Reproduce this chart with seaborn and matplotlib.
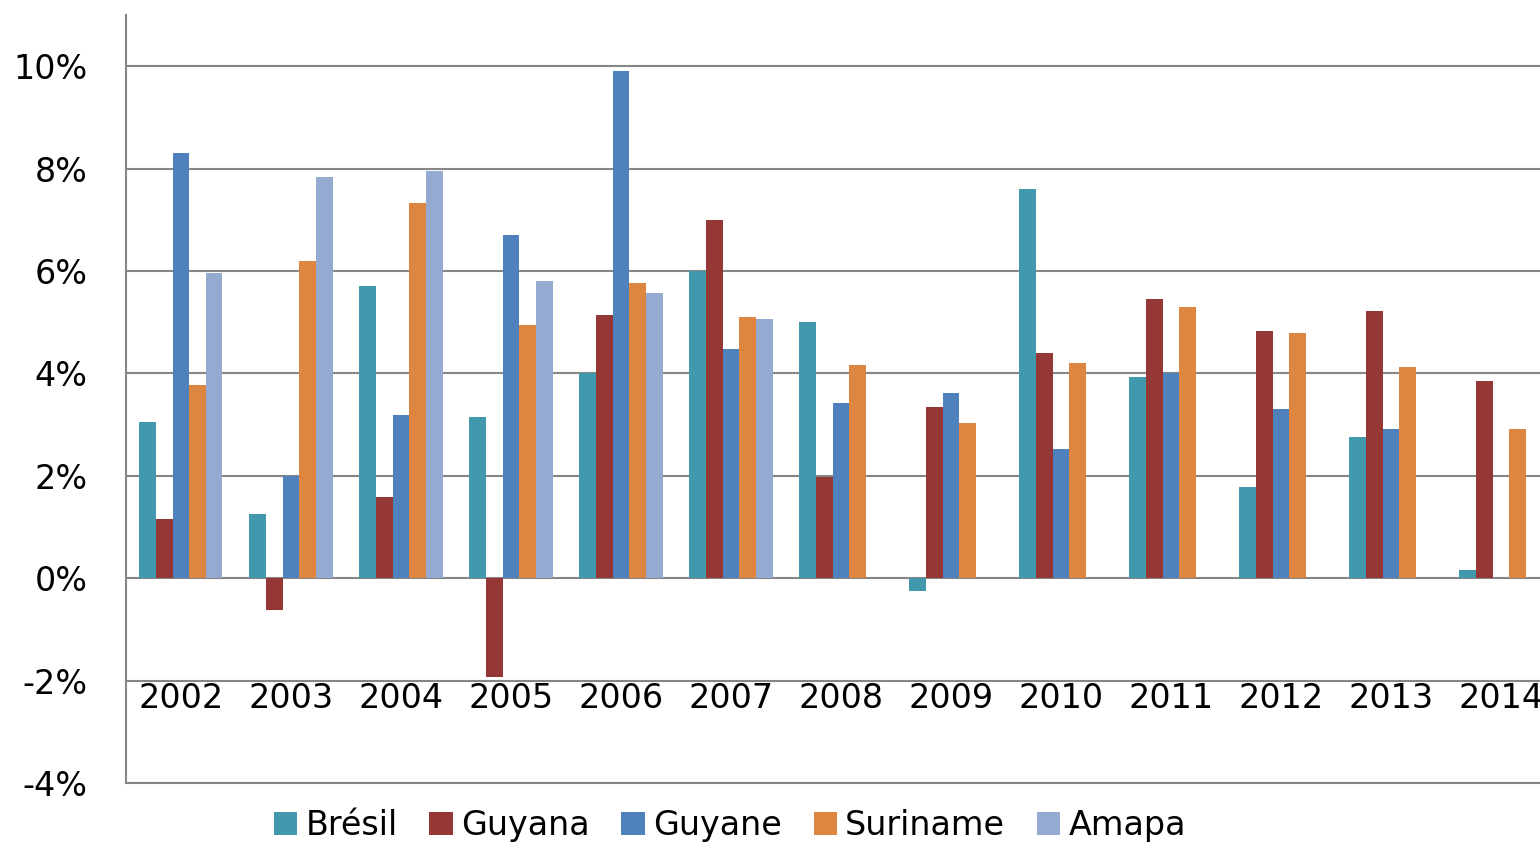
import matplotlib
matplotlib.use("Agg")
import matplotlib.pyplot as plt
import seaborn as sns
import pandas as pd
import numpy as np
from matplotlib.ticker import FuncFormatter

years = ["2002", "2003", "2004", "2005", "2006", "2007", "2008",
         "2009", "2010", "2011", "2012", "2013", "2014"]
bresil = [3.05, 1.25, 5.7, 3.15, 4.0, 6.0, 5.0, -0.25, 7.6, 3.93, 1.78, 2.75, 0.15]
guyana = [1.15, -0.63, 1.58, -1.93, 5.14, 7.0, 1.97, 3.34, 4.39, 5.45, 4.82, 5.21, 3.85]
guyane = [8.3, 2.0, 3.18, 6.7, 9.9, 4.47, 3.42, 3.61, 2.52, 4.0, 3.3, 2.91, None]
suriname = [3.77, 6.19, 7.32, 4.94, 5.76, 5.1, 4.16, 3.03, 4.2, 5.29, 4.79, 4.12, 2.91]
amapa = [5.96, 7.83, 7.95, 5.8, 5.57, 5.06, None, None, None, None, None, None, None]

series_names = ["Brésil", "Guyana", "Guyane", "Suriname", "Amapa"]
series_vals = [bresil, guyana, guyane, suriname, amapa]
colors = ["#4299AE", "#953735", "#4F81BD", "#DE8540", "#95AAD1"]

rows = []
for name, vals in zip(series_names, series_vals):
    for y, v in zip(years, vals):
        rows.append({"year": y, "series": name, "value": np.nan if v is None else v})
df = pd.DataFrame(rows)

sns.set_style("white")
plt.rcParams["font.family"] = ["DejaVu Sans"]

fig = plt.figure(figsize=(15.4, 8.48), dpi=100)
ax = fig.add_axes([0.0818, 0.0767, 0.9286, 0.9056])

sns.barplot(data=df, x="year", y="value", hue="series", order=years,
            hue_order=series_names, palette=colors, width=0.755,
            errorbar=None, linewidth=0, saturation=1, ax=ax, legend=True)

ax.set_xlim(-0.5, 12.5)
ax.set_ylim(-4, 11)
ax.set_yticks(np.arange(-4, 11, 2))
ax.yaxis.set_major_formatter(FuncFormatter(lambda v, p: f"{v:.0f}%"))
ax.set_axisbelow(True)
ax.grid(axis="y", color="#868686", linewidth=1.5)
ax.grid(axis="x", visible=False)
ax.set_xlabel("")
ax.set_ylabel("")

for s in ["top", "right"]:
    ax.spines[s].set_visible(False)
for s in ["left", "bottom"]:
    ax.spines[s].set_color("#868686")
    ax.spines[s].set_linewidth(1.5)

ax.tick_params(axis="y", length=8.6, width=1.5, color="#868686", pad=19,
               labelsize=24, labelcolor="black")
ax.tick_params(axis="x", length=0, pad=-73, labelsize=24, labelcolor="black")

handles, labels = ax.get_legend_handles_labels()
ax.legend_.remove()
fig.legend(handles, labels, loc="center", bbox_to_anchor=(0.474, 0.026),
           ncol=5, frameon=False, fontsize=24, handlelength=0.7,
           handleheight=0.7, handletextpad=0.25, columnspacing=0.95,
           borderaxespad=0, labelcolor="black")

fig.savefig("out.png", dpi=100)
